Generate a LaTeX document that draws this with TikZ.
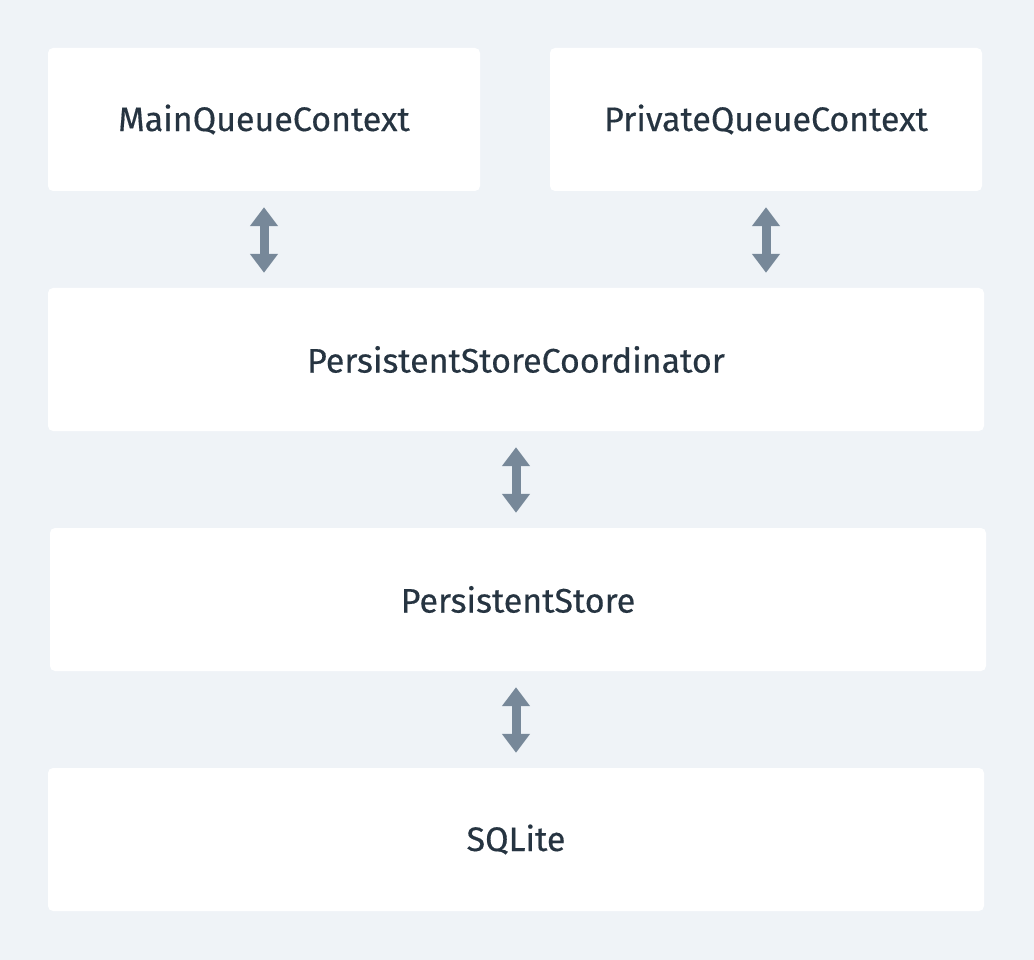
\documentclass[tikz,border=0pt]{standalone}
\usepackage{fontspec}
\setmainfont{Fira Sans}
\newfontfamily\layerfont{Fira Sans}[FakeBold=0.4]
\usetikzlibrary{arrows.meta}

\definecolor{bgcol}{HTML}{EFF3F7}
\definecolor{arrowcol}{HTML}{778899}
\definecolor{textcol}{HTML}{263441}

\tikzset{
  layer/.style={fill=white, rounded corners=5pt, draw=none, text=textcol,
    font=\layerfont\fontsize{34}{40}\selectfont, inner sep=0pt},
  link/.style={arrowcol, line width=9pt, shorten <=16pt, shorten >=15pt,
    {Triangle[width=27pt,length=19pt]}-{Triangle[width=27pt,length=19pt]}}
}

\begin{document}
\begin{tikzpicture}[x=1pt,y=-1pt]

% --- Background ---
\fill[bgcol] (0,0) rectangle (1034,960);
\useasboundingbox (0,0) rectangle (1034,960);

% --- Boxes ---
\node[layer, minimum width=432pt, minimum height=143pt] (main) at (264,119.5) {MainQueueContext};
\node[layer, minimum width=432pt, minimum height=143pt] (private) at (766,119.5) {PrivateQueueContext};
\node[layer, minimum width=936pt, minimum height=143pt] (coord) at (516,359.5) {PersistentStoreCoordinator};
\node[layer, minimum width=936pt, minimum height=143pt] (store) at (518,599.5) {PersistentStore};
\node[layer, minimum width=936pt, minimum height=143pt] (sqlite) at (516,839.5) {SQLite};

% --- Arrows ---
\draw[link] (main.south) -- (main.south |- coord.north);
\draw[link] (private.south) -- (private.south |- coord.north);
\draw[link] (coord.south) -- (coord.south |- store.north);
\draw[link] (coord.south |- store.south) -- (coord.south |- sqlite.north);

\end{tikzpicture}
\end{document}
